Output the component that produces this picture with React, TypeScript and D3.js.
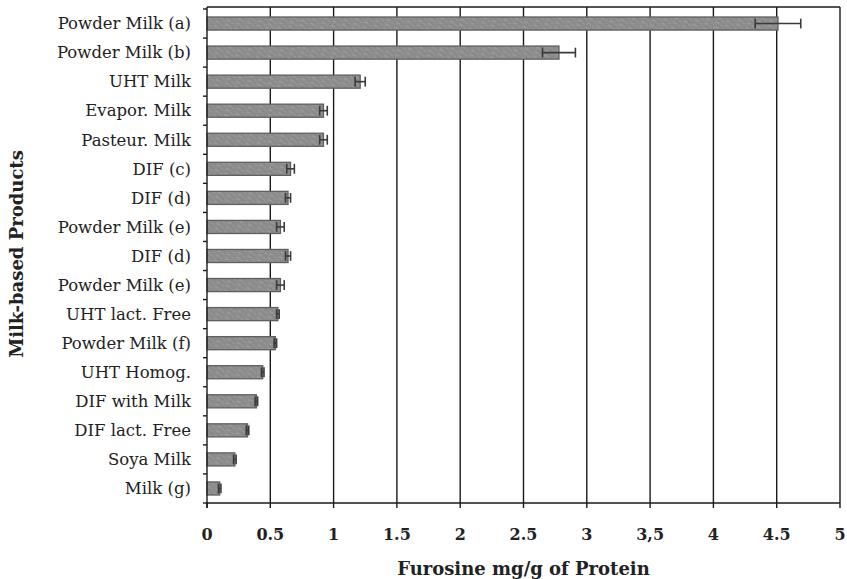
import React from "react";
import * as d3 from "d3";

const categories = [
  "Powder Milk (a)",
  "Powder Milk (b)",
  "UHT Milk",
  "Evapor. Milk",
  "Pasteur. Milk",
  "DIF (c)",
  "DIF (d)",
  "Powder Milk (e)",
  "DIF (d)",
  "Powder Milk (e)",
  "UHT lact. Free",
  "Powder Milk (f)",
  "UHT Homog.",
  "DIF with Milk",
  "DIF lact. Free",
  "Soya Milk",
  "Milk (g)",
];
const values = [4.51, 2.78, 1.21, 0.92, 0.92, 0.66, 0.64, 0.58, 0.64, 0.58, 0.56, 0.54, 0.44, 0.39, 0.32, 0.22, 0.1];
const errors = [0.18, 0.13, 0.04, 0.03, 0.03, 0.03, 0.02, 0.03, 0.02, 0.03, 0.01, 0.01, 0.01, 0.01, 0.01, 0.01, 0.01];
const xTicks = [0, 0.5, 1, 1.5, 2, 2.5, 3, 3.5, 4, 4.5, 5];
const xTickLabels = ["0", "0.5", "1", "1.5", "2", "2.5", "3", "3,5", "4", "4.5", "5"];

const W = 847;
const H = 579;
const left = 207;
const right = 840;
const top = 9;
const bottom = 503;

export default function App() {
  const x = d3.scaleLinear().domain([0, 5]).range([left, right]);
  const y = d3
    .scaleBand<number>()
    .domain(d3.range(categories.length))
    .range([top, bottom])
    .paddingInner(0.55)
    .paddingOuter(0.275);
  const band = (bottom - top) / categories.length;
  const serif = "'DejaVu Serif', serif";

  return (
    <svg
      width={W}
      height={H}
      style={{ position: "absolute", left: 0, top: 0, background: "#fff" }}
    >
      <defs>
        {/* mottled grey fill for the bars */}
        <pattern id="grain" width="10" height="5" patternUnits="userSpaceOnUse" patternTransform="rotate(20)">
          <rect width="10" height="5" fill="#8d8d8d" />
          <rect x="0" y="0" width="4" height="1.5" fill="#9c9c9c" />
          <rect x="5" y="2" width="3" height="1.2" fill="#999" />
          <rect x="2" y="3.5" width="5" height="1" fill="#838383" />
          <rect x="7" y="0.5" width="2" height="1" fill="#858585" />
        </pattern>
      </defs>

      {/* vertical grid lines */}
      {xTicks.slice(1).map((t) => (
        <line key={"g" + t} x1={x(t)} x2={x(t)} y1={top - 2} y2={bottom} stroke="#1a1a1a" strokeWidth={1.4} />
      ))}
      {/* top frame line */}
      <line x1={left} x2={right} y1={top - 2} y2={top - 2} stroke="#1a1a1a" strokeWidth={1.4} />

      {/* bars */}
      {values.map((v, i) => (
        <rect
          key={"b" + i}
          x={x(0)}
          y={y(i)!}
          width={x(v) - x(0)}
          height={y.bandwidth()}
          fill="url(#grain)"
          stroke="#5f5f5f"
          strokeWidth={1.3}
        />
      ))}

      {/* error bars */}
      {values.map((v, i) => {
        const cy = y(i)! + y.bandwidth() / 2;
        const lo = x(v - errors[i]);
        const hi = x(v + errors[i]);
        const h = y.bandwidth() * 0.75;
        return (
          <g key={"e" + i} stroke="#3a3a3a" strokeWidth={1.6}>
            <line x1={lo} x2={hi} y1={cy} y2={cy} />
            <line x1={lo} x2={lo} y1={cy - h / 2} y2={cy + h / 2} />
            <line x1={hi} x2={hi} y1={cy - h / 2} y2={cy + h / 2} />
          </g>
        );
      })}

      {/* y axis */}
      <line x1={left} x2={left} y1={top - 2} y2={bottom + 5} stroke="#1a1a1a" strokeWidth={1.4} />
      {d3.range(categories.length + 1).map((i) => (
        <line
          key={"yt" + i}
          x1={left - 4}
          x2={left}
          y1={top + i * band}
          y2={top + i * band}
          stroke="#1a1a1a"
          strokeWidth={1.4}
        />
      ))}
      {categories.map((c, i) => (
        <text
          key={"yl" + i}
          x={left - 16}
          y={y(i)! + y.bandwidth() / 2}
          dy="0.35em"
          textAnchor="end"
          fontFamily={serif}
          fontSize={16.5}
          fill="#222"
        >
          {c}
        </text>
      ))}

      {/* x axis */}
      <line x1={left} x2={right} y1={bottom} y2={bottom} stroke="#1a1a1a" strokeWidth={1.4} />
      {xTicks.map((t, i) => (
        <g key={"xt" + i}>
          <line x1={x(t)} x2={x(t)} y1={bottom} y2={bottom + 5} stroke="#1a1a1a" strokeWidth={1.4} />
          <text
            x={x(t)}
            y={540}
            textAnchor="middle"
            fontFamily={serif}
            fontWeight="bold"
            fontSize={16}
            fill="#222"
          >
            {xTickLabels[i]}
          </text>
        </g>
      ))}

      {/* axis titles */}
      <text
        x={(left + right) / 2}
        y={575}
        textAnchor="middle"
        fontFamily={serif}
        fontWeight="bold"
        fontSize={18}
        fill="#222"
      >
        Furosine mg/g of Protein
      </text>
      <text
        transform={`translate(23, 254) rotate(-90)`}
        textAnchor="middle"
        fontFamily={serif}
        fontWeight="bold"
        fontSize={18}
        fill="#222"
      >
        Milk-based Products
      </text>
    </svg>
  );
}
